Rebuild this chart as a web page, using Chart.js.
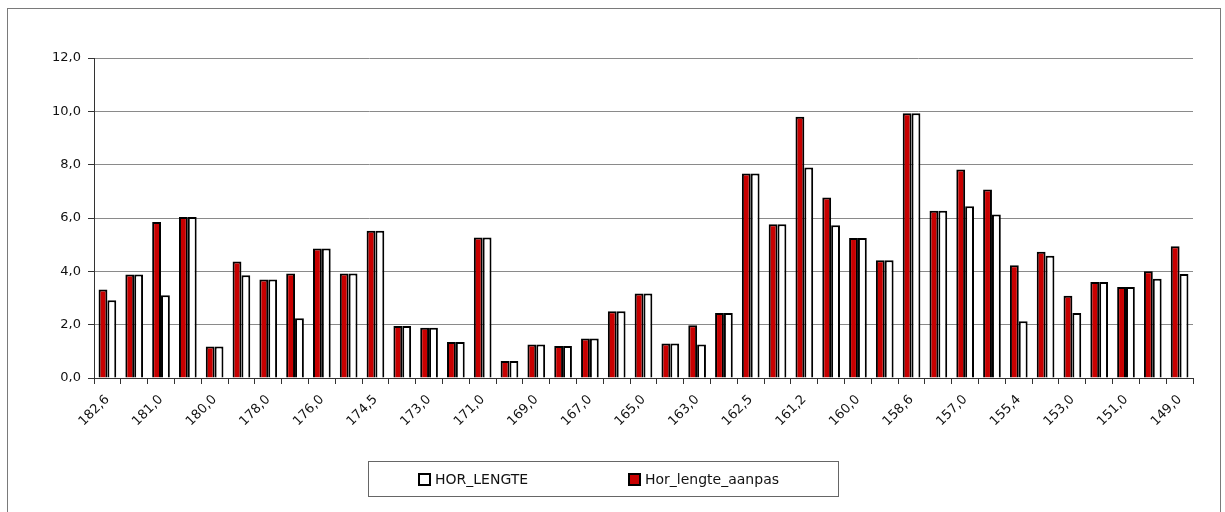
<!DOCTYPE html>
<html>
<head>
<meta charset="utf-8">
<script src="https://cdn.jsdelivr.net/npm/chart.js@4/dist/chart.umd.min.js"></script>
<style>
  html, body { margin: 0; padding: 0; background: #fff; }
  #wrap { position: relative; width: 1225px; height: 512px; overflow: hidden; }
  #frame { position: absolute; left: 7px; top: 8px; width: 1214px; height: 520px; border: 1px solid #7a7a7a; box-sizing: border-box; }
  #c { position: absolute; left: 0; top: 0; }
  #legend { position: absolute; left: 368px; top: 461px; width: 471px; height: 36px; border: 1px solid #666; box-sizing: border-box;
            font-family: "DejaVu Sans", sans-serif; font-size: 14px; color: #111; }
  .item { position: absolute; top: 9px; display: flex; align-items: center; white-space: nowrap; }
  .sw { width: 9px; height: 9px; border: 2px solid #000; margin-right: 4px; }
</style>
</head>
<body>
<div id="wrap">
  <div id="frame"></div>
  <canvas id="c" width="1225" height="512"></canvas>
  <div id="legend"></div>
</div>
<script>
// Category labels (only every other one is printed on the axis; unprinted ones are blank)
const categories = [
  '182,6','', '181,0','', '180,0','', '178,0','', '176,0','', '174,5','',
  '173,0','', '171,0','', '169,0','', '167,0','', '165,0','', '163,0','',
  '162,5','', '161,2','', '160,0','', '158,6','', '157,0','', '155,4','',
  '153,0','', '151,0','', '149,0'
];
// Hor_lengte_aanpas (red)
const horLengteAanpas = [
  3.32, 3.88, 5.85, 6.04, 1.18, 4.37, 3.69, 3.92, 4.86, 3.92, 5.52,
  1.95, 1.88, 1.35, 5.27, 0.64, 1.26, 1.20, 1.48, 2.50, 3.17, 1.29,
  1.98, 2.44, 7.67, 5.77, 9.80, 6.77, 5.25, 4.42, 9.93, 6.27, 7.82,
  7.07, 4.23, 4.73, 3.08, 3.60, 3.41, 4.00, 4.94
];
// HOR_LENGTE (white)
const horLengte = [
  2.92, 3.88, 3.10, 6.04, 1.18, 3.85, 3.69, 2.24, 4.86, 3.92, 5.52,
  1.95, 1.88, 1.35, 5.27, 0.64, 1.26, 1.20, 1.48, 2.50, 3.17, 1.29,
  1.26, 2.44, 7.67, 5.77, 7.89, 5.73, 5.25, 4.42, 9.93, 6.27, 6.44,
  6.13, 2.13, 4.58, 2.44, 3.60, 3.41, 3.72, 3.90
];
const yTicks = { min: 0, max: 12, step: 2 };

const FONT = "'DejaVu Sans', sans-serif";
const datasets = [
  { label: 'Hor_lengte_aanpas', data: horLengteAanpas, backgroundColor: '#c80000', borderColor: '#000', borderWidth: 2 },
  { label: 'HOR_LENGTE', data: horLengte, backgroundColor: '#ffffff', borderColor: '#000', borderWidth: 2 }
];

const chart = new Chart(document.getElementById('c'), {
  type: 'bar',
  data: { labels: categories, datasets: datasets },
  options: {
    responsive: false,
    animation: false,
    events: [],
    categoryPercentage: 0.66,
    barPercentage: 1.0,
    layout: { padding: { left: 0, top: 58, right: 32, bottom: 64 } },
    plugins: { legend: { display: false }, tooltip: { enabled: false } },
    scales: {
      x: {
        grid: { offset: true, drawOnChartArea: false, drawTicks: true, tickLength: 6, color: '#333', lineWidth: 1 },
        border: { display: true, color: '#333', width: 1 },
        ticks: { autoSkip: false, minRotation: 45, maxRotation: 45, color: '#111', font: { family: FONT, size: 13 }, padding: 8 },
        afterFit: s => { s.height = 70; }
      },
      y: {
        min: yTicks.min, max: yTicks.max,
        grid: { color: '#8a8a8a', lineWidth: 1, tickLength: 6, tickColor: '#333' },
        border: { display: true, color: '#333', width: 1 },
        ticks: { stepSize: yTicks.step, color: '#111', font: { family: FONT, size: 13 }, padding: 7,
                 callback: v => v.toFixed(1).replace('.', ',') },
        afterFit: s => { s.width = 94; }
      }
    }
  }
});

// HTML legend (order as in the reference: HOR_LENGTE first)
const legend = document.getElementById('legend');
const lx = [49, 259];
[datasets[1], datasets[0]].forEach((d, i) => {
  const it = document.createElement('div');
  it.className = 'item';
  it.style.left = lx[i] + 'px';
  const sw = document.createElement('span');
  sw.className = 'sw';
  sw.style.background = d.backgroundColor;
  const tx = document.createElement('span');
  tx.textContent = d.label;
  it.appendChild(sw); it.appendChild(tx);
  legend.appendChild(it);
});
</script>
</body>
</html>
